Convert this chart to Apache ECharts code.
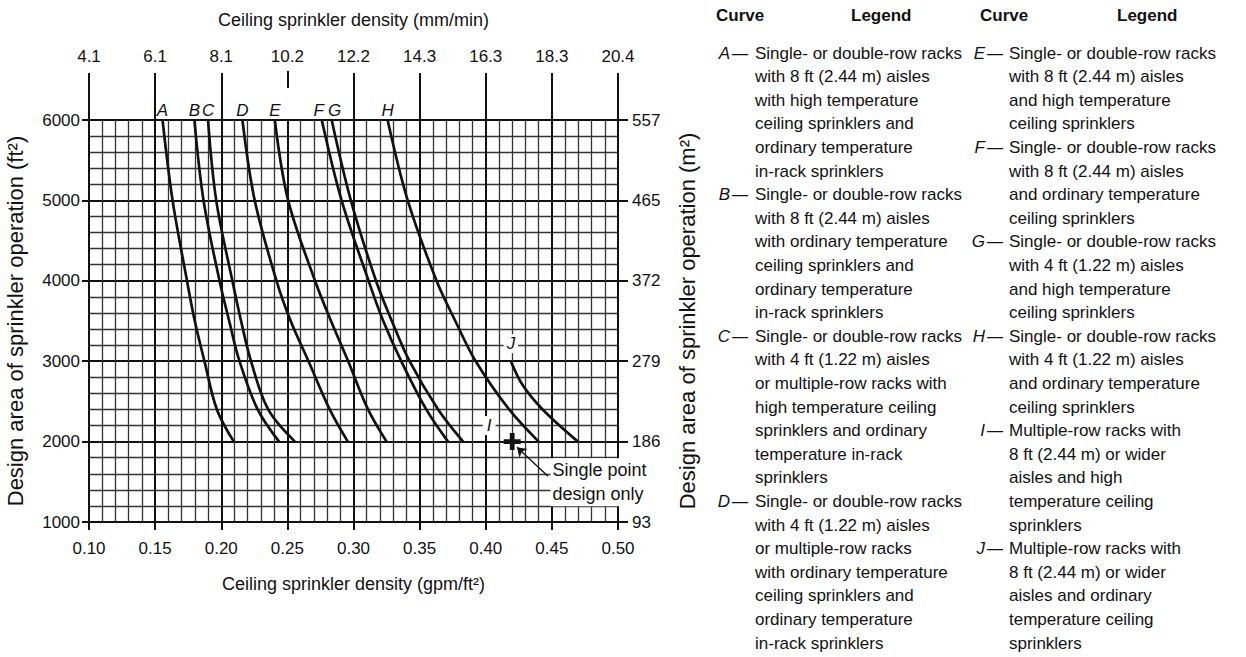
<!DOCTYPE html>
<html><head><meta charset="utf-8">
<script src="https://cdn.jsdelivr.net/npm/echarts@6/dist/echarts.min.js"></script>
<style>html,body{margin:0;padding:0;background:#fff}#c{width:1246px;height:657px}</style>
</head><body><div id="c"></div>
<script>
// ---------- data ----------
const areas = [6000, 5000, 4000, 3500, 3000, 2400, 2000];          // ft²
const curveA = [0.1556, 0.1632, 0.1741, 0.1800, 0.1873, 0.1967, 0.2095];
const curveB = [0.1797, 0.1866, 0.1987, 0.2060, 0.2138, 0.2275, 0.2437];
const curveC = [0.1900, 0.1962, 0.2084, 0.2150, 0.2225, 0.2355, 0.2557];
const curveD = [0.2160, 0.2253, 0.2418, 0.2525, 0.2660, 0.2820, 0.2957];
const curveE = [0.2405, 0.2506, 0.2709, 0.2830, 0.2960, 0.3110, 0.3250];
const curveF = [0.2760, 0.2910, 0.3114, 0.3225, 0.3361, 0.3550, 0.3715];
const curveG = [0.2835, 0.2980, 0.3170, 0.3290, 0.3424, 0.3640, 0.3829];
const curveH = [0.3258, 0.3410, 0.3628, 0.3770, 0.3924, 0.4177, 0.4400];
const areasJ = [3000, 2700, 2400, 2000];
const curveJ = [0.4190, 0.4280, 0.4430, 0.4697];
const pointI = [0.42, 2000];                       // single point design only
const arrowFrom = [0.4471, 1569], arrowTo = [0.4236, 1930];
const noteAnchor = [0.449, 1494];
const curveNames = ['A','B','C','D','E','F','G','H'];
const gpmTickLabels = ['0.10','0.15','0.20','0.25','0.30','0.35','0.40','0.45','0.50'];
const mmLabels = ['4.1','6.1','8.1','10.2','12.2','14.3','16.3','18.3','20.4'];
const ftLabels = ['1000','2000','3000','4000','5000','6000'];
const m2Labels = ['93','186','279','372','465','557'];
const longTickValues = [0.10,0.15,0.20,0.30,0.35,0.40,0.45,0.50];
const shortTickValues = [0.25];

const legendLeft = [
 ['A',['Single- or double-row racks','with 8 ft (2.44 m) aisles','with high temperature','ceiling sprinklers and','ordinary temperature','in-rack sprinklers']],
 ['B',['Single- or double-row racks','with 8 ft (2.44 m) aisles','with ordinary temperature','ceiling sprinklers and','ordinary temperature','in-rack sprinklers']],
 ['C',['Single- or double-row racks','with 4 ft (1.22 m) aisles','or multiple-row racks with','high temperature ceiling','sprinklers and ordinary','temperature in-rack','sprinklers']],
 ['D',['Single- or double-row racks','with 4 ft (1.22 m) aisles','or multiple-row racks','with ordinary temperature','ceiling sprinklers and','ordinary temperature','in-rack sprinklers']]
];
const legendRight = [
 ['E',['Single- or double-row racks','with 8 ft (2.44 m) aisles','and high temperature','ceiling sprinklers']],
 ['F',['Single- or double-row racks','with 8 ft (2.44 m) aisles','and ordinary temperature','ceiling sprinklers']],
 ['G',['Single- or double-row racks','with 4 ft (1.22 m) aisles','and high temperature','ceiling sprinklers']],
 ['H',['Single- or double-row racks','with 4 ft (1.22 m) aisles','and ordinary temperature','ceiling sprinklers']],
 ['I',['Multiple-row racks with','8 ft (2.44 m) or wider','aisles and high','temperature ceiling','sprinklers']],
 ['J',['Multiple-row racks with','8 ft (2.44 m) or wider','aisles and ordinary','temperature ceiling','sprinklers']]
];

// ---------- chart ----------
const FONT = '"Liberation Sans", Arial, sans-serif';
const INK = '#111';
const chart = echarts.init(document.getElementById('c'), null, {renderer:'svg'});

const labelShift = {F:-3, G:3};
function topLabel(name, x, y, dist, bg){
  return {silent:true, symbol:'circle', symbolSize:0, animation:false,
    itemStyle:{opacity:1},
    label:{show:true, formatter:name, position:'top', distance:dist, offset:[labelShift[name]||0, 0],
      fontStyle:'italic', fontSize:17, fontFamily:FONT, color:INK,
      backgroundColor: bg ? '#fff' : 'transparent', padding: bg ? [1,3] : 0},
    data:[{coord:[x,y]}]};
}

const curves = [curveA,curveB,curveC,curveD,curveE,curveF,curveG,curveH];
const series = curves.map((xs, k) => ({
  type:'line', name:curveNames[k], smooth:0.35, showSymbol:false, symbol:'none', z:5,
  lineStyle:{color:INK, width:2.7},
  data: areas.map((a,i) => [xs[i], a]),
  markPoint: topLabel(curveNames[k], xs[0], areas[0], 1, false)
}));
series.push({
  type:'line', name:'J', smooth:0.35, showSymbol:false, symbol:'none', z:5,
  lineStyle:{color:INK, width:2.7},
  data: areasJ.map((a,i)=> [curveJ[i], a]),
  markPoint: topLabel('J', curveJ[0], areasJ[0], 8, true)
});
series.push({
  type:'scatter', name:'I', z:6,
  symbol:'path://M3.6,0h2.8v10h-2.8z M0,3.6h10v2.8h-10z', symbolSize:17,
  itemStyle:{color:INK, opacity:1},
  label:{show:true, formatter:'I', position:'inside', offset:[-23,-16],
    fontStyle:'italic', fontSize:17, fontFamily:FONT, color:INK,
    backgroundColor:'#fff', padding:[1,4]},
  data:[pointI],
  markLine:{silent:true, symbol:['none','arrow'], symbolSize:9,
    lineStyle:{color:INK, width:1.4, type:'solid', opacity:1}, label:{show:false},
    data:[[{coord:arrowFrom},{coord:arrowTo}]]}
});
series.push({
  type:'scatter', name:'note', z:7, symbolSize:0, data:[noteAnchor], silent:true,
  itemStyle:{opacity:1},
  label:{show:true, position:'right', distance:0, formatter:'Single point\ndesign only',
    fontSize:18, fontFamily:FONT, color:INK, lineHeight:24,
    backgroundColor:'#fff', padding:[0,2,0,2]}
});

const graphics = [];
function hdr(x, t){ graphics.push({type:'text', x:x, y:15, style:{text:t, fontSize:17, fontWeight:'bold',
  fontFamily:FONT, fill:INK, textAlign:'left', textVerticalAlign:'middle'}}); }
hdr(716,'Curve'); hdr(851,'Legend'); hdr(980,'Curve'); hdr(1117,'Legend');
function col(entries, letterX, dashX, bodyX){
  let y = 53;
  entries.forEach(([L, lines]) => {
    graphics.push({type:'text', x:letterX, y:y, style:{text:L, fontSize:17, fontStyle:'italic',
      fontFamily:FONT, fill:INK, textAlign:'right', textVerticalAlign:'middle'}});
    graphics.push({type:'text', x:dashX, y:y, style:{text:'\u2014', fontSize:16,
      fontFamily:FONT, fill:INK, textAlign:'left', textVerticalAlign:'middle'}});
    lines.forEach(s => {
      graphics.push({type:'text', x:bodyX, y:y, style:{text:s, fontSize:17,
        fontFamily:FONT, fill:INK, textAlign:'left', textVerticalAlign:'middle'}});
      y += 23.6;
    });
  });
}
col(legendLeft, 730, 732, 755);
col(legendRight, 985, 987, 1009);

const lblStyle = {fontSize:17, fontFamily:FONT, color:INK};
const option = {
  animation:false,
  backgroundColor:'#fff',
  grid:{left:89, top:120, width:529, height:402, containLabel:false},
  xAxis:[
    {type:'value', position:'bottom', min:0.10, max:0.50, interval:0.05,
     name:'Ceiling sprinkler density (gpm/ft\u00B2)', nameLocation:'middle', nameGap:53,
     nameTextStyle:{fontSize:18, fontFamily:FONT, color:INK},
     axisLine:{show:true, lineStyle:{color:INK, width:2}},
     axisTick:{show:true, length:8, lineStyle:{color:INK, width:2}},
     axisLabel:Object.assign({margin:18, formatter:v=>gpmTickLabels[Math.round((v-0.10)/0.05)]}, lblStyle),
     splitLine:{show:true, lineStyle:{color:INK, width:2}},
     minorTick:{show:false, splitNumber:5},
     minorSplitLine:{show:true, lineStyle:{color:'#333', width:1.3}}},
    {type:'value', position:'top', min:0.10, max:0.50, interval:0.05,
     name:'Ceiling sprinkler density (mm/min)', nameLocation:'middle', nameGap:91,
     nameTextStyle:{fontSize:18, fontFamily:FONT, color:INK},
     axisLine:{show:false},
     axisTick:{show:true, length:47, customValues:longTickValues, lineStyle:{color:INK, width:2}},
     axisLabel:Object.assign({margin:55, formatter:v=>mmLabels[Math.round((v-0.10)/0.05)]}, lblStyle),
     splitLine:{show:false}},
    {type:'value', position:'top', offset:32, min:0.10, max:0.50, interval:0.05,
     axisLine:{show:false}, axisLabel:{show:false}, splitLine:{show:false},
     axisTick:{show:true, length:17, customValues:shortTickValues, lineStyle:{color:INK, width:2}}}
  ],
  yAxis:[
    {type:'value', position:'left', min:1000, max:6000, interval:1000,
     name:'Design area of sprinkler operation (ft\u00B2)', nameLocation:'middle', nameGap:63, nameRotate:90,
     nameTextStyle:{fontSize:22, fontFamily:FONT, color:INK},
     axisLine:{show:true, lineStyle:{color:INK, width:2}},
     axisTick:{show:true, length:7, lineStyle:{color:INK, width:2}},
     axisLabel:Object.assign({margin:9, formatter:v=>ftLabels[Math.round((v-1000)/1000)]}, lblStyle),
     splitLine:{show:true, lineStyle:{color:INK, width:2}},
     minorTick:{show:false, splitNumber:5},
     minorSplitLine:{show:true, lineStyle:{color:'#333', width:1.3}}},
    {type:'value', position:'right', min:1000, max:6000, interval:1000,
     name:'Design area of sprinkler operation (m\u00B2)', nameLocation:'middle', nameGap:58, nameRotate:90,
     nameTextStyle:{fontSize:22, fontFamily:FONT, color:INK},
     axisLine:{show:true, lineStyle:{color:INK, width:2}},
     axisTick:{show:true, length:10, lineStyle:{color:INK, width:2}},
     axisLabel:Object.assign({margin:14, formatter:v=>m2Labels[Math.round((v-1000)/1000)]}, lblStyle),
     splitLine:{show:false}}
  ],
  series: series,
  graphic: graphics
};
chart.setOption(option);
</script></body></html>
